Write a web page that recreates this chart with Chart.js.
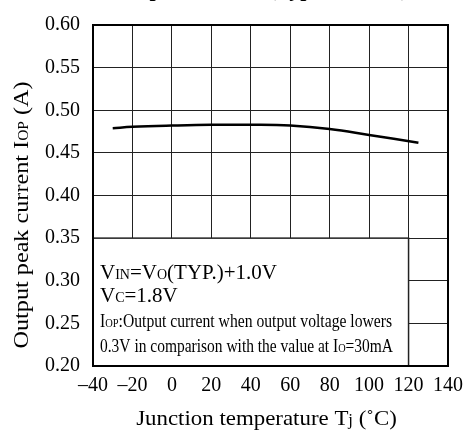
<!DOCTYPE html>
<html>
<head>
<meta charset="utf-8">
<script src="https://cdn.jsdelivr.net/npm/chart.js@4/dist/chart.umd.min.js"></script>
<style>
    html, body { margin: 0; padding: 0; background: #fff; }
    canvas { display: block; }
</style>
</head>
<body>
<canvas id="grafico" width="473" height="431"></canvas>
<script>
// Dados: corrente de pico x temperatura da junção
const temperaturas = [-30, -20, 0, 20, 40, 60, 80, 100, 125];
const correntePico = [0.479, 0.4805, 0.482, 0.483, 0.483, 0.482, 0.478, 0.471, 0.462];

const ticksX = [-40, -20, 0, 20, 40, 60, 80, 100, 120, 140];
const ticksY = [0.20, 0.25, 0.30, 0.35, 0.40, 0.45, 0.50, 0.55, 0.60];

// caixa de observações (em unidades do gráfico)
const caixaNotaX = [-40, 120];
const caixaNotaY = [0.20, 0.35];

const FONTE = '"Liberation Serif", "DejaVu Serif", serif';

// cada linha: lista de trechos [texto, tamanho]
const notas = [
    [['V', 21], ['IN', 14], ['=V', 21], ['O', 14], ['(TYP.)+1.0V', 21]],
    [['V', 21], ['C', 14], ['=1.8V', 21]],
    [['I', 18], ['OP', 12], [':Output current when output voltage lowers', 18]],
    [['0.3V in comparison with the value at I', 18], ['O', 12], ['=30mA', 18]]
];
const tituloEixoY = [['Output peak current I', 22], ['OP', 14], [' (A)', 22]];
const tituloEixoX = [['Junction temperature T', 22], ['j', 16], [' (\u02DAC)', 22]];
const tituloGrafico = 'Output Current (Typical value)';

function larguraTrechos(ctx, trechos, negrito) {
    let largura = 0;
    trechos.forEach(([t, tam]) => {
        ctx.font = `${negrito ? 'bold ' : ''}${tam}px ${FONTE}`;
        largura += ctx.measureText(t).width;
    });
    return largura;
}

function desenharTrechos(ctx, trechos, x, y, centro, escalaX, negrito) {
    const largura = larguraTrechos(ctx, trechos, negrito);
    ctx.save();
    ctx.translate(x, y);
    ctx.scale(escalaX, 1);
    ctx.fillStyle = '#000';
    ctx.textAlign = 'left';
    ctx.textBaseline = 'alphabetic';
    let cx = centro ? -largura / 2 : 0;
    trechos.forEach(([t, tam]) => {
        ctx.font = `${negrito ? 'bold ' : ''}${tam}px ${FONTE}`;
        ctx.fillText(t, cx, 0);
        cx += ctx.measureText(t).width;
    });
    ctx.restore();
}

const pluginExtras = {
    id: 'extras',
    beforeDatasetsDraw(chart) {
        const { ctx, scales: { x, y } } = chart;
        const x0 = x.getPixelForValue(caixaNotaX[0]);
        const x1 = x.getPixelForValue(caixaNotaX[1]);
        const y0 = y.getPixelForValue(caixaNotaY[1]);
        const y1 = y.getPixelForValue(caixaNotaY[0]);
        ctx.save();
        ctx.fillStyle = '#fff';
        ctx.fillRect(x0, y0, x1 - x0, y1 - y0);
        ctx.strokeStyle = '#222';
        ctx.lineWidth = 1.5;
        ctx.strokeRect(x0, y0, x1 - x0, y1 - y0);
        ctx.restore();

        const esq = x0 + 7;
        desenharTrechos(ctx, notas[0], esq, y0 + 41, false, 1);
        desenharTrechos(ctx, notas[1], esq, y0 + 64, false, 1);
        desenharTrechos(ctx, notas[2], esq, y0 + 89, false, 0.87);
        desenharTrechos(ctx, notas[3], esq, y0 + 114, false, 0.86);
    },
    afterDatasetsDraw(chart) {
        const { ctx, chartArea: a } = chart;
        ctx.save();
        ctx.strokeStyle = '#000';
        ctx.lineWidth = 2;
        ctx.strokeRect(a.left, a.top, a.right - a.left, a.bottom - a.top);
        ctx.restore();

        // títulos dos eixos
        desenharTrechos(ctx, tituloEixoX, (a.left + a.right) / 2 - 4, 425, true, 1.04);
        ctx.save();
        ctx.translate(28, 215);
        ctx.rotate(-Math.PI / 2);
        desenharTrechos(ctx, tituloEixoY, 0, 0, true, 1.1);
        ctx.restore();

        // título cortado no topo da imagem
        desenharTrechos(ctx, [[tituloGrafico, 22]], (a.left + a.right) / 2 - 10, -4, true, 1, true);
    }
};

const rotuloX = (v) => (v < 0 ? '\u2013' + Math.abs(v) : String(v));

new Chart(document.getElementById('grafico'), {
    type: 'line',
    data: {
        datasets: [{
            data: temperaturas.map((t, i) => ({ x: t, y: correntePico[i] })),
            borderColor: '#000',
            borderWidth: 2.5,
            pointRadius: 0,
            tension: 0.4,
            fill: false
        }]
    },
    options: {
        responsive: false,
        animation: false,
        devicePixelRatio: 1,
        layout: { padding: { top: 11, right: 25, left: 0, bottom: 0 } },
        plugins: {
            legend: { display: false },
            tooltip: { enabled: false }
        },
        scales: {
            x: {
                type: 'linear',
                min: -40,
                max: 140,
                afterBuildTicks: (s) => { s.ticks = ticksX.map((v) => ({ value: v })); },
                afterFit: (s) => { s.height = 65; },
                grid: { color: '#222', lineWidth: 1, drawTicks: false },
                border: { display: false },
                ticks: {
                    callback: rotuloX,
                    color: '#000',
                    padding: 8,
                    maxRotation: 0,
                    autoSkip: false,
                    font: { family: FONTE, size: 20 }
                }
            },
            y: {
                type: 'linear',
                min: 0.2,
                max: 0.6,
                afterBuildTicks: (s) => { s.ticks = ticksY.map((v) => ({ value: v })); },
                afterFit: (s) => { s.width = 93; },
                grid: { color: '#222', lineWidth: 1, drawTicks: false },
                border: { display: false },
                ticks: {
                    callback: (v) => v.toFixed(2),
                    color: '#000',
                    padding: 13,
                    autoSkip: false,
                    font: { family: FONTE, size: 20 }
                }
            }
        }
    },
    plugins: [pluginExtras]
});
</script>
</body>
</html>
